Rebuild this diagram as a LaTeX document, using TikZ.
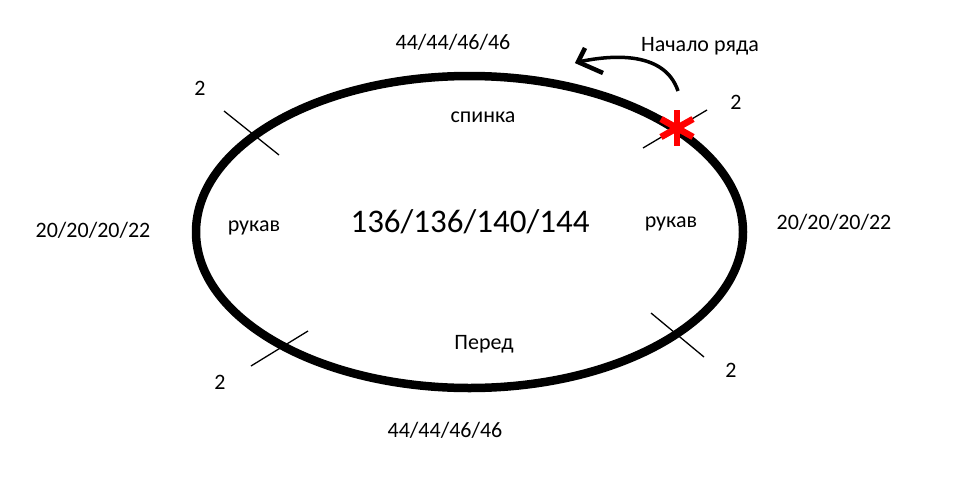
\documentclass[tikz,border=0pt]{standalone}
\usepackage{fontspec}
\setmainfont{Carlito}
\usetikzlibrary{calc}
\begin{document}
\begin{tikzpicture}[x=1pt,y=-1pt,
  lbl/.style={inner sep=0pt, font=\fontsize{22}{26}\selectfont},
  big/.style={inner sep=0pt, font=\fontsize{33}{38}\selectfont},
  tick/.style={line width=1.3pt},
  star/.style={red, line width=6.5pt},
  arrowline/.style={line width=3.5pt}]
\useasboundingbox[fill=white] (0,0) rectangle (977,490);
% oval
\draw[line width=8.5pt] (469.5,232) ellipse [x radius=273.5pt, y radius=156pt];
% ticks
\coordinate (t1a) at (224,111); \coordinate (t1b) at (279,155);
\coordinate (t2a) at (251,366); \coordinate (t2b) at (308,331);
\coordinate (t3a) at (651,313); \coordinate (t3b) at (704,357);
\coordinate (t4a) at (643,148); \coordinate (t4b) at (707,110);
\draw[tick] (t1a) -- (t1b);
\draw[tick] (t2a) -- (t2b);
\draw[tick] (t3a) -- (t3b);
\draw[tick] (t4a) -- (t4b);
% star
\coordinate (st) at (677,128);
\draw[star] ($(st)+(0,-18)$) -- ($(st)+(0,18)$);
\draw[star] ($(st)+(-16,-9)$) -- ($(st)+(16,9)$);
\draw[star] ($(st)+(-16,9)$) -- ($(st)+(16,-9)$);
% arrow
\coordinate (arS) at (678,91);
\coordinate (arE) at (578,62);
\coordinate (barbA) at (585,48);
\coordinate (barbB) at (603,73);
\draw[arrowline] (arS) .. controls (665,52) and (615,54) .. (arE);
\draw[line width=4.5pt, line join=miter] (barbA) -- (arE) -- (barbB);
% labels
\node[lbl] (top) at (453,42) {44/44/46/46};
\node[lbl] (start) at (700,46) {Начало ряда};
\node[lbl] (back) at (483,117) {спинка};
\node[lbl] (n1) at (200,88) {2};
\node[lbl] (n2) at (736,102) {2};
\node[lbl] (leftnum) at (93,230) {20/20/20/22};
\node[lbl] (sl1) at (254,228) {рукав};
\node[big] (total) at (470,222) {136/136/140/144};
\node[lbl] (sl2) at (671,224) {рукав};
\node[lbl] (rightnum) at (834,222) {20/20/20/22};
\node[lbl] (front) at (484,344) {Перед};
\node[lbl] (n3) at (220,382) {2};
\node[lbl] (n4) at (731,370) {2};
\node[lbl] (bot) at (445,430) {44/44/46/46};
\end{tikzpicture}
\end{document}
